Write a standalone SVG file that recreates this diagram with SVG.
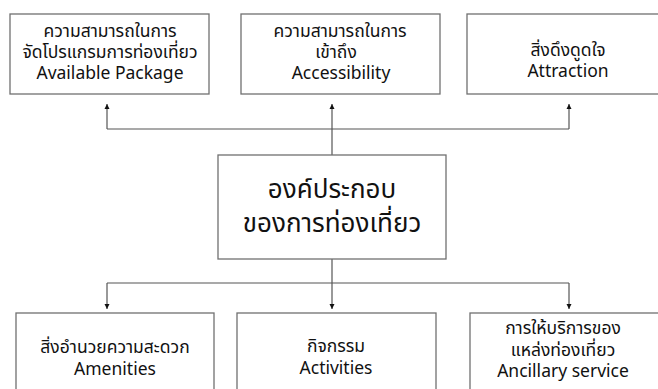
<svg xmlns="http://www.w3.org/2000/svg" width="658" height="389" viewBox="0 0 658 389">
<style>
.box{fill:#fff;stroke:#707070;stroke-width:1.3}
.t{font-family:"Noto Sans Thai","Noto Sans","DejaVu Sans",sans-serif;font-size:17.5px;fill:#111;text-anchor:middle}
.big{font-size:26px}
.ln{fill:none;stroke:#555;stroke-width:1.2}
</style>
<defs>
<marker id="ah" viewBox="0 0 10 10" refX="10" refY="5" markerWidth="5" markerHeight="8" markerUnits="userSpaceOnUse" orient="auto">
<path d="M0,0 L10,5 L0,10 Z" fill="#111"/>
</marker>
</defs>
<rect width="658" height="389" fill="#fff"/>
<g id="connectors">
<path class="ln" d="M332,155 V129"/>
<path class="ln" d="M107,129 H569"/>
<path class="ln" d="M107,129 V104" marker-end="url(#ah)"/>
<path class="ln" d="M332,129 V104" marker-end="url(#ah)"/>
<path class="ln" d="M569,129 V104" marker-end="url(#ah)"/>
<path class="ln" d="M332,259 V283"/>
<path class="ln" d="M107,283 H569"/>
<path class="ln" d="M107,283 V309" marker-end="url(#ah)"/>
<path class="ln" d="M332,283 V309" marker-end="url(#ah)"/>
<path class="ln" d="M569,283 V309" marker-end="url(#ah)"/>
</g>
<g id="available-package">
<rect class="box" x="10" y="14" width="199" height="80"/>
<text class="t" x="110" y="37">ความสามารถในการ</text>
<text class="t" x="110" y="58">จัดโปรแกรมการท่องเที่ยว</text>
<text class="t" x="110" y="79">Available Package</text>
</g>
<g id="accessibility">
<rect class="box" x="241" y="14" width="199" height="80"/>
<text class="t" x="340" y="37">ความสามารถในการ</text>
<text class="t" x="336" y="58">เข้าถึง</text>
<text class="t" x="341" y="79">Accessibility</text>
</g>
<g id="attraction">
<rect class="box" x="467" y="14" width="210" height="80"/>
<text class="t" x="568" y="56">สิ่งดึงดูดใจ</text>
<text class="t" x="568" y="77">Attraction</text>
</g>
<g id="tourism-components">
<rect class="box" x="218" y="155" width="228" height="104"/>
<text class="t big" x="332" y="198">องค์ประกอบ</text>
<text class="t big" x="332" y="232">ของการท่องเที่ยว</text>
</g>
<g id="amenities">
<rect class="box" x="16" y="313" width="198" height="90"/>
<text class="t" x="115" y="353">สิ่งอำนวยความสะดวก</text>
<text class="t" x="115" y="375">Amenities</text>
</g>
<g id="activities">
<rect class="box" x="237" y="313" width="199" height="90"/>
<text class="t" x="336" y="352">กิจกรรม</text>
<text class="t" x="336" y="374">Activities</text>
</g>
<g id="ancillary-service">
<rect class="box" x="470" y="313" width="210" height="90"/>
<text class="t" x="563" y="334">การให้บริการของ</text>
<text class="t" x="563" y="356">แหล่งท่องเที่ยว</text>
<text class="t" x="563" y="377">Ancillary service</text>
</g>
</svg>
